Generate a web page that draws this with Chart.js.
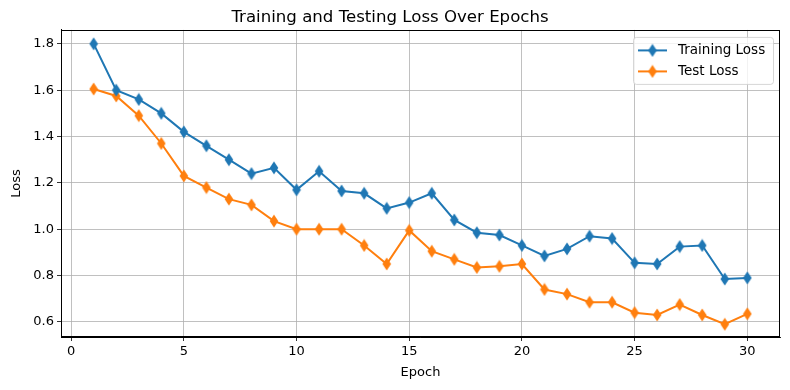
<!DOCTYPE html>
<html>
<head>
<meta charset="utf-8">
<script src="https://cdn.jsdelivr.net/npm/chart.js@4"></script>
<style>
  html, body { margin: 0; padding: 0; background: #fff; }
  #wrap { width: 790px; height: 390px; }
</style>
</head>
<body>
<div id="wrap"><canvas id="lossChart" width="790" height="390"></canvas></div>
<script>
var epochs = [1,2,3,4,5,6,7,8,9,10,11,12,13,14,15,16,17,18,19,20,21,22,23,24,25,26,27,28,29,30];
var trainLoss = [1.80,1.60,1.56,1.50,1.42,1.36,1.30,1.24,1.265,1.17,1.25,1.165,1.155,1.09,1.115,1.155,1.04,0.985,0.975,0.93,0.885,0.915,0.97,0.96,0.855,0.85,0.925,0.93,0.785,0.79];
var testLoss = [1.605,1.575,1.49,1.37,1.23,1.18,1.13,1.105,1.035,1.00,1.00,1.00,0.93,0.85,0.995,0.905,0.87,0.835,0.84,0.85,0.74,0.72,0.685,0.685,0.64,0.63,0.675,0.63,0.59,0.635];
var xTicks = [0,5,10,15,20,25,30];
var yTicks = [0.6,0.8,1.0,1.2,1.4,1.6,1.8];

var FONT = "'DejaVu Sans', sans-serif";
var BLUE = '#1f77b4';
var ORANGE = '#ff7f0e';

// thin diamond marker like matplotlib 'd'
function diamond(color) {
    var c = document.createElement('canvas');
    c.width = 10; c.height = 14;
    var g = c.getContext('2d');
    g.fillStyle = color;
    g.beginPath();
    g.moveTo(5, 0.5);
    g.lineTo(9.3, 7);
    g.lineTo(5, 13.5);
    g.lineTo(0.7, 7);
    g.closePath();
    g.fill();
    return c;
}

function toPoints(xs, ys) {
    return xs.map(function(x, i) { return {x: x, y: ys[i]}; });
}

var seriesInfo = [
    {label: 'Training Loss', color: BLUE, data: trainLoss},
    {label: 'Test Loss', color: ORANGE, data: testLoss}
];

// frame round plot + matplotlib-style legend
var framePlugin = {
    id: 'frame',
    afterDraw: function(chart) {
        var ctx = chart.ctx, a = chart.chartArea;
        ctx.save();
        ctx.strokeStyle = '#000';
        ctx.lineWidth = 1;
        ctx.strokeRect(Math.round(a.left) + 0.5, Math.round(a.top) + 0.5,
                       Math.round(a.right - a.left) - 1, Math.round(a.bottom - a.top) - 1);

        // legend box
        var bw = 140, bh = 47;
        var bx = a.right - 7 - bw, by = a.top + 7;
        ctx.beginPath();
        ctx.roundRect(bx + 0.5, by + 0.5, bw, bh, 3);
        ctx.fillStyle = 'rgba(255,255,255,0.8)';
        ctx.fill();
        ctx.strokeStyle = 'rgba(204,204,204,0.8)';
        ctx.lineWidth = 1;
        ctx.stroke();
        ctx.font = '13.5px ' + FONT;
        ctx.textBaseline = 'middle';
        seriesInfo.forEach(function(s, i) {
            var yy = by + 13.5 + i * 21;
            ctx.strokeStyle = s.color;
            ctx.lineWidth = 2;
            ctx.beginPath();
            ctx.moveTo(bx + 5, yy);
            ctx.lineTo(bx + 34, yy);
            ctx.stroke();
            var m = diamond(s.color);
            ctx.drawImage(m, bx + 19.5 - m.width / 2, yy - m.height / 2);
            ctx.fillStyle = '#000';
            ctx.fillText(s.label, bx + 45, yy);
        });
        ctx.restore();
    }
};

var ctx = document.getElementById('lossChart').getContext('2d');
var lossChart = new Chart(ctx, {
    type: 'line',
    data: {
        datasets: seriesInfo.map(function(s) {
            return {
                label: s.label,
                data: toPoints(epochs, s.data),
                borderColor: s.color,
                backgroundColor: s.color,
                borderWidth: 2,
                pointStyle: diamond(s.color),
                pointRadius: 5,
                tension: 0
            };
        })
    },
    options: {
        responsive: false,
        animation: false,
        layout: {padding: {left: 0, right: 10, top: 0, bottom: 10}},
        plugins: {
            legend: {display: false},
            tooltip: {enabled: false},
            title: {
                display: true,
                text: 'Training and Testing Loss Over Epochs',
                color: '#000',
                font: {family: FONT, size: 16.6, weight: 'normal', lineHeight: 1.2},
                padding: {top: 8, bottom: 2}
            }
        },
        scales: {
            x: {
                type: 'linear',
                min: -0.45,
                max: 31.45,
                afterBuildTicks: function(axis) {
                    axis.ticks = xTicks.map(function(v) { return {value: v}; });
                },
                afterFit: function(axis) { axis.height = 390 - 337 - 10; },
                ticks: {
                    color: '#000',
                    font: {family: FONT, size: 13},
                    padding: 3,
                    maxRotation: 0,
                    callback: function(v) { return String(v); }
                },
                grid: {color: '#b0b0b0', lineWidth: 0.8, tickColor: '#000', tickLength: 4},
                border: {color: '#000', width: 1},
                title: {display: true, text: 'Epoch', color: '#000', font: {family: FONT, size: 13}, padding: {top: 2, bottom: 0}}
            },
            y: {
                min: 0.535,
                max: 1.86,
                afterBuildTicks: function(axis) {
                    axis.ticks = yTicks.map(function(v) { return {value: v}; });
                },
                afterFit: function(axis) { axis.width = 61; },
                ticks: {
                    color: '#000',
                    font: {family: FONT, size: 13},
                    padding: 3,
                    callback: function(v) { return v.toFixed(1); }
                },
                grid: {color: '#b0b0b0', lineWidth: 0.8, tickColor: '#000', tickLength: 4},
                border: {color: '#000', width: 1},
                title: {display: true, text: 'Loss', color: '#000', font: {family: FONT, size: 13}, padding: {top: 9, bottom: 6}}
            }
        }
    },
    plugins: [framePlugin]
});
</script>
</body>
</html>
